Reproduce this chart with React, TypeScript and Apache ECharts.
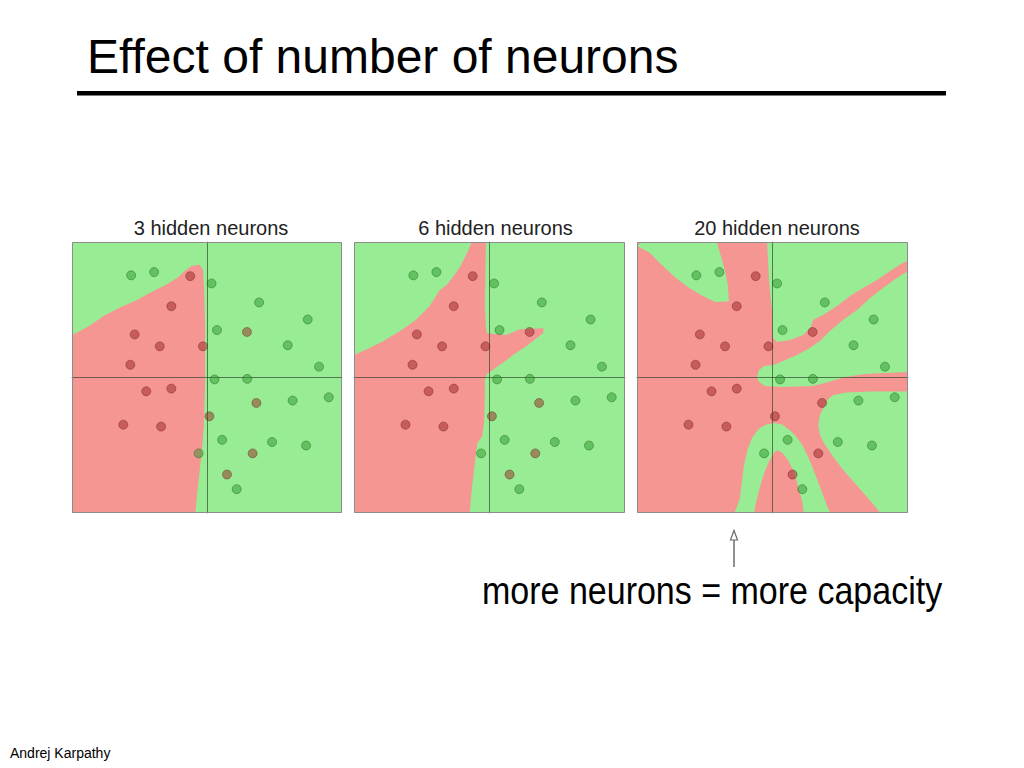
import React, { useEffect, useRef } from "react";
import * as echarts from "echarts";

// ---------- data (coordinates in the plot's own units, range -5..5) ----------
const panelTitles = ["3 hidden neurons", "6 hidden neurons", "20 hidden neurons"];

const greenPoints: number[][] = [
  [-2.81, 3.77], [-1.96, 3.89], [0.17, 3.47], [1.93, 2.77], [3.73, 2.14],
  [0.37, 1.75], [2.99, 1.19], [4.15, 0.4], [0.28, -0.07], [1.49, -0.05],
  [3.17, -0.85], [4.51, -0.73], [0.56, -2.3], [2.41, -2.38], [3.67, -2.51],
  [-0.31, -2.8], [1.1, -4.12],
];

const redPoints: number[][] = [
  [-0.62, 3.74], [-1.32, 2.63], [-2.68, 1.59], [-1.75, 1.15], [-0.15, 1.15],
  [1.48, 1.68], [-2.84, 0.47], [-2.25, -0.51], [-1.32, -0.41], [1.83, -0.94],
  [0.09, -1.43], [-3.1, -1.74], [-1.7, -1.81], [1.69, -2.8], [0.74, -3.58],
];

// 3 hidden neurons: red region on green background
const panel1Red: number[][] = [
  [-5, -5], [-5, 1.57], [-4.44, 1.85], [-3.83, 2.27], [-3.21, 2.59], [-2.59, 2.86],
  [-2.1, 3.14], [-1.6, 3.38], [-1.11, 3.67], [-0.8, 3.95], [-0.56, 4.12], [-0.27, 4.16],
  [-0.15, 3.98], [-0.1, 3.11], [-0.07, 1.88], [-0.07, 0.64], [-0.07, -0.22], [-0.1, -1.21],
  [-0.12, -1.83], [-0.19, -2.69], [-0.27, -3.43], [-0.37, -4.3], [-0.43, -5],
];

// 6 hidden neurons: red region on green background
const panel2Red: number[][] = [
  [-5, -5], [-5, 0.83], [-4.45, 1.08], [-3.96, 1.32], [-3.34, 1.69], [-2.72, 2.12],
  [-2.23, 2.61], [-1.83, 3.23], [-1.58, 3.41], [-1.35, 3.71], [-1.09, 4.08], [-0.83, 4.59],
  [-0.65, 5], [-0.13, 5], [-0.15, 3.85], [-0.17, 2.61], [-0.13, 1.85], [-0.1, 1.63],
  [0.63, 1.57], [1.13, 1.78], [1.99, 1.82], [1.99, 1.65], [1.74, 1.45], [1.37, 1.16],
  [1.0, 0.92], [0.63, 0.65], [0.32, 0.42], [0.08, 0.25], [-0.1, 0.13], [-0.17, -0.09],
  [-0.17, -0.71], [-0.2, -1.69], [-0.27, -2.18], [-0.45, -2.43], [-0.54, -3.17],
  [-0.63, -3.9], [-0.69, -4.52], [-0.73, -5],
];

// 20 hidden neurons: green regions on red background
const panel3TopLeft: number[][] = [
  [-4.85, 5], [-2.06, 5], [-1.9, 4.47], [-1.75, 3.92], [-1.65, 3.42], [-1.61, 2.81],
  [-2.12, 2.79], [-2.61, 3.03], [-3.11, 3.33], [-3.6, 3.7], [-4.09, 4.16], [-4.52, 4.59],
  [-5, 4.85],
];
const panel3TopRight: number[][] = [
  [-0.2, 5], [5, 5], [5, 4.3], [4.82, 4.23], [4.34, 3.93], [3.86, 3.6], [3.34, 3.3],
  [2.86, 3.01], [2.38, 2.64], [1.86, 2.31], [1.49, 2.12], [1.42, 1.86], [1.13, 1.57],
  [0.65, 1.38], [0.17, 1.31], [0.02, 1.46], [-0.02, 2.49], [-0.13, 3.6],
];
const panel3Middle: number[][] = [
  [5, 3.93], [4.59, 3.67], [4.08, 3.3], [3.6, 2.93], [3.12, 2.49], [2.6, 2.12],
  [2.12, 1.72], [1.75, 1.35], [1.38, 1.09], [0.9, 0.83], [0.39, 0.61], [0.02, 0.46],
  [-0.31, 0.42], [-0.5, 0.28], [-0.57, 0.02], [-0.5, -0.17], [-0.28, -0.31], [0.35, -0.35],
  [1.46, -0.31], [1.94, -0.2], [2.68, 0.02], [3.41, 0.13], [5, 0.2],
];
const panel3LowerRight: number[][] = [
  [5, -0.52], [3.6, -0.52], [2.74, -0.55], [2.24, -0.65], [2.02, -0.83], [1.9, -1.08],
  [1.75, -1.38], [1.69, -1.75], [1.75, -2.12], [1.94, -2.49], [2.24, -2.92], [2.61, -3.41],
  [3.04, -3.9], [3.48, -4.4], [3.85, -4.83], [3.97, -5], [5, -5],
];
const panel3Arch: number[][] = [
  [-1.4, -5], [-1.2, -4.46], [-1.13, -3.85], [-1.05, -3.23], [-0.93, -2.68], [-0.76, -2.24],
  [-0.51, -1.9], [-0.23, -1.73], [0.08, -1.68], [0.35, -1.73], [0.63, -1.94], [0.88, -2.18],
  [1.13, -2.55], [1.31, -2.92], [1.49, -3.35], [1.68, -3.85], [1.86, -4.34], [2.05, -4.83],
  [2.15, -5], [1.15, -5], [1.11, -4.64], [1.0, -4.21], [0.88, -3.78], [0.76, -3.41],
  [0.57, -3.04], [0.39, -2.8], [0.2, -2.68], [0.08, -2.74], [-0.1, -3.04], [-0.29, -3.48],
  [-0.41, -3.85], [-0.54, -4.34], [-0.63, -4.7], [-0.68, -5],
];

// ---------- styles / layout ----------
const GREEN = "#98ed94";
const RED = "#f59693";
const AXIS = "rgba(40,60,40,0.65)";
const FONT = '"Liberation Sans", Arial, Helvetica, sans-serif';
const GRID_TOP = 242;
const GRID_H = 271;

const panels = [
  { left: 72, width: 270, base: GREEN, fill: RED, polys: [panel1Red], titleX: 211 },
  { left: 354, width: 271, base: GREEN, fill: RED, polys: [panel2Red], titleX: 495.5 },
  {
    left: 637, width: 271, base: RED, fill: GREEN,
    polys: [panel3TopLeft, panel3TopRight, panel3Middle, panel3LowerRight, panel3Arch],
    titleX: 777,
  },
];

export default function App() {
  const ref = useRef<HTMLDivElement>(null);

  useEffect(() => {
    if (!ref.current) return;
    const chart = echarts.init(ref.current, null, { renderer: "svg" });

    const grids = panels.map((p) => ({
      left: p.left,
      top: GRID_TOP,
      width: p.width,
      height: GRID_H,
      show: true,
      backgroundColor: p.base,
      borderWidth: 0,
      containLabel: false,
    }));

    const axis = (i: number) => ({
      gridIndex: i,
      type: "value",
      min: -5,
      max: 5,
      z: 4,
      axisLine: { show: true, onZero: true, lineStyle: { color: AXIS, width: 1 } },
      axisTick: { show: false },
      axisLabel: { show: false },
      splitLine: { show: false },
    });

    const series: any[] = [];
    panels.forEach((p, i) => {
      const polys = p.polys;
      series.push({
        type: "custom",
        xAxisIndex: i,
        yAxisIndex: i,
        z: 1,
        silent: true,
        clip: true,
        data: polys.map((poly, k) => [poly[0][0], poly[0][1], k]),
        renderItem: (_params: any, api: any) => {
          const poly = polys[api.value(2)];
          return {
            type: "polygon",
            shape: { points: poly.map((pt) => api.coord(pt)) },
            style: { fill: p.fill },
          };
        },
      });
      series.push({
        type: "scatter",
        xAxisIndex: i,
        yAxisIndex: i,
        z: 6,
        symbolSize: 9,
        silent: true,
        data: greenPoints,
        itemStyle: { color: "rgba(40,150,40,0.62)", borderColor: "rgba(20,70,20,0.45)", borderWidth: 1 },
      });
      series.push({
        type: "scatter",
        xAxisIndex: i,
        yAxisIndex: i,
        z: 6,
        symbolSize: 9,
        silent: true,
        data: redPoints,
        itemStyle: { color: "rgba(150,30,30,0.6)", borderColor: "rgba(80,20,20,0.45)", borderWidth: 1 },
      });
    });

    const text = (
      t: string, x: number, y: number, size: number, align: string,
      color = "#000", scaleX = 1,
    ) => ({
      type: "text",
      x,
      y,
      scaleX,
      z: 20,
      silent: true,
      style: {
        text: t,
        fill: color,
        fontSize: size,
        fontFamily: FONT,
        textAlign: align,
        align,
        textVerticalAlign: "middle",
        verticalAlign: "middle",
      },
    });

    const graphic: any[] = [
      text("Effect of number of neurons", 87, 56.7, 48, "left"),
      { type: "rect", z: 20, silent: true, shape: { x: 77, y: 91, width: 869, height: 4.5 }, style: { fill: "#000" } },
      ...panels.map((p, i) => text(panelTitles[i], p.titleX, 228, 20, "center", "#222")),
      ...panels.map((p) => ({
        type: "rect",
        z: 15,
        silent: true,
        shape: { x: p.left + 0.5, y: GRID_TOP + 0.5, width: p.width - 1, height: GRID_H - 1 },
        style: { fill: "none", stroke: "#8c8c8c", lineWidth: 1 },
      })),
      { type: "polyline", z: 20, silent: true, shape: { points: [[734, 567], [734, 540]] }, style: { stroke: "#6b6b6b", lineWidth: 1.5, fill: "none" } },
      { type: "polygon", z: 20, silent: true, shape: { points: [[734, 530.5], [730.5, 540], [737.5, 540]] }, style: { fill: "#fff", stroke: "#6b6b6b", lineWidth: 1.2 } },
      text("more neurons = more capacity", 482, 591, 38, "left", "#000", 0.895),
      text("Andrej Karpathy", 10, 753, 14, "left", "#000"),
    ];

    chart.setOption({
      animation: false,
      backgroundColor: "#ffffff",
      grid: grids,
      xAxis: panels.map((_, i) => axis(i)),
      yAxis: panels.map((_, i) => axis(i)),
      series,
      graphic,
    });

    return () => chart.dispose();
  }, []);

  return (
    <div
      ref={ref}
      style={{ position: "absolute", left: 0, top: 0, width: 1024, height: 768, background: "#fff" }}
    />
  );
}
